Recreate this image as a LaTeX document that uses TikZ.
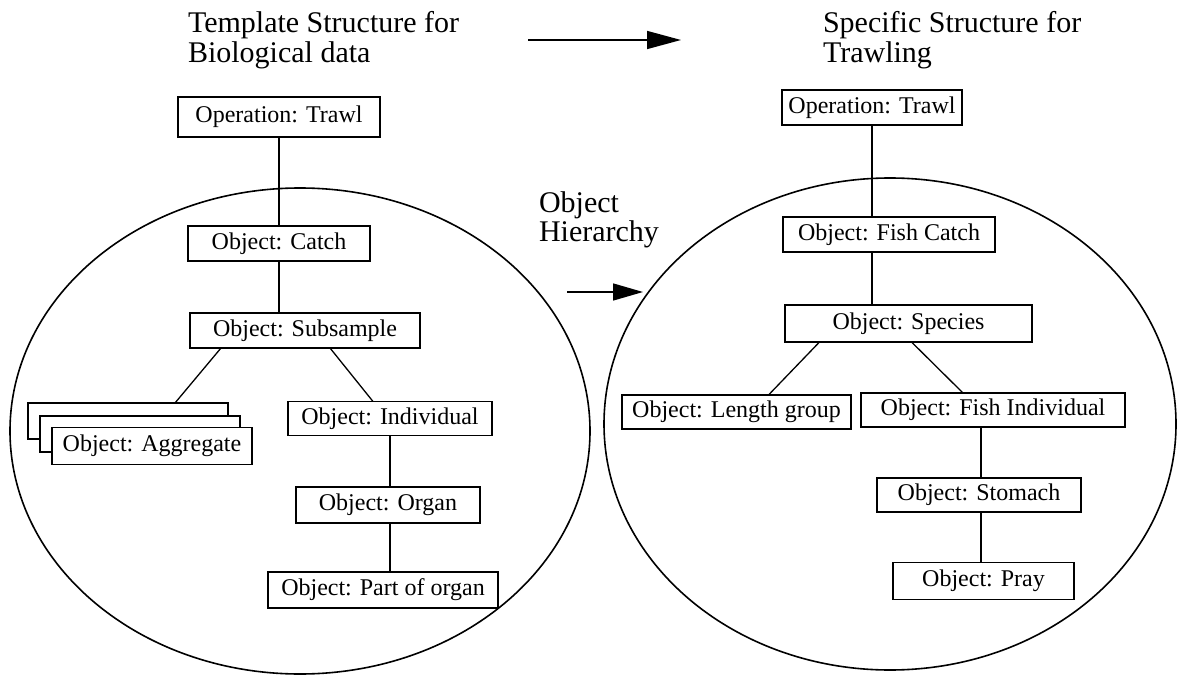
\documentclass[tikz,border=0pt]{standalone}
\usepackage{fontspec}
\setmainfont{Liberation Serif}
\usetikzlibrary{arrows.meta,positioning}

\begin{document}
\begin{tikzpicture}[x=1pt,y=-1pt,
    every node/.style={outer sep=0pt},
    box/.style={draw,line width=1.3pt,fill=white,inner sep=0pt,minimum height=35pt,font=\fontsize{24}{28}\selectfont},
    title/.style={anchor=base west,inner sep=0pt,font=\fontsize{30}{34}\selectfont},
    link/.style={line width=1.3pt},
    arr/.style={line width=1.5pt,-{Triangle[length=34pt,width=18pt]}},
    bubble/.style={line width=1.6pt}]
  \useasboundingbox (0,0) rectangle (1177,676);

  % the two bubbles
  \draw[bubble] (300,431) ellipse [x radius=290, y radius=243];
  \draw[bubble] (890,424) ellipse [x radius=286, y radius=246];

  % headings
  \node[title] (titleL1) at (188,33) {Template Structure for};
  \node[title] (titleL2) at (188,63) {Biological data};
  \node[title] (titleR1) at (823,33) {Specific Structure for};
  \node[title] (titleR2) at (823,63) {Trawling};
  \node[title] (hier1) at (539,213) {Object};
  \node[title] (hier2) at (539,242) {Hierarchy};

  \coordinate (topA) at (528,40);
  \coordinate (topB) at (681,40);
  \coordinate (midA) at (567,292);
  \coordinate (midB) at (643,292);
  \draw[arr] (topA) -- (topB);
  \draw[arr,-{Triangle[length=30pt,width=17pt]}] (midA) -- (midB);

  % template side
  \node[box,minimum width=202pt,minimum height=40pt] (opL) at (279,117) {Operation: Trawl};
  \node[box,minimum width=182pt] (catch) at (279,243.5) {Object: Catch};
  \node[box,minimum width=230pt] (sub) at (305,330.5) {Object: Subsample};
  \node[box,minimum width=200pt,minimum height=36pt] (agg1) at (128,421) {};
  \node[box,minimum width=200pt,minimum height=36pt] (agg2) at (140,434) {};
  \node[box,minimum width=200pt,minimum height=37pt] (agg3) at (152,446) {Object: Aggregate};
  \node[box,minimum width=204pt,minimum height=34pt] (indiv) at (390,418.5) {Object: Individual};
  \node[box,minimum width=184pt,minimum height=36pt] (organ) at (388,505) {Object: Organ};
  \node[box,minimum width=230pt,minimum height=36pt] (part) at (383,590) {Object: Part of organ};

  \draw[link] (opL.south) -- (opL.south |- catch.north);
  \draw[link] (catch.south) -- (catch.south |- sub.north);
  \draw[link] ([xshift=-84pt]sub.south) -- ([xshift=47pt]agg1.north);
  \draw[link] ([xshift=25pt]sub.south) -- ([xshift=-17pt]indiv.north);
  \draw[link] (indiv.south) -- (indiv.south |- organ.north);
  \draw[link] (organ.south -| indiv.south) -- (indiv.south |- part.north);

  % trawling side
  \node[box,minimum width=180pt] (opR) at (872,107.5) {Operation: Trawl};
  \node[box,minimum width=212pt] (fcatch) at (889,234.5) {Object: Fish Catch};
  \node[box,minimum width=247pt,minimum height=37pt] (species) at (908.5,323.5) {Object: Species};
  \node[box,minimum width=229pt,minimum height=34pt] (length) at (736.5,412) {Object: Length group};
  \node[box,minimum width=264pt,minimum height=34pt] (fishind) at (993,410) {Object: Fish Individual};
  \node[box,minimum width=204pt,minimum height=34pt] (stomach) at (979,495) {Object: Stomach};
  \node[box,minimum width=181pt,minimum height=37pt] (pray) at (983.5,581) {Object: Pray};

  \draw[link] (opR.south) -- (opR.south |- fcatch.north);
  \draw[link] (fcatch.south -| opR.south) -- (opR.south |- species.north);
  \draw[link] ([xshift=-89pt]species.south) -- ([xshift=32pt]length.north);
  \draw[link] ([xshift=3pt]species.south) -- ([xshift=-30pt]fishind.north);
  \draw[link] ([xshift=-12pt]fishind.south) -- ([xshift=-12pt]fishind.south |- stomach.north);
  \draw[link] ([xshift=-12pt]fishind.south |- stomach.south) -- ([xshift=-12pt]fishind.south |- pray.north);
\end{tikzpicture}
\end{document}
